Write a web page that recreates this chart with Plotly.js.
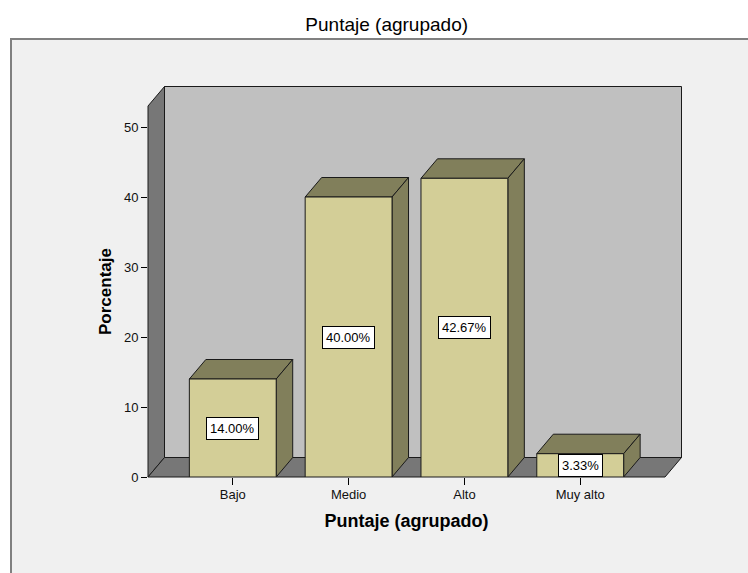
<!DOCTYPE html>
<html>
<head>
<meta charset="utf-8">
<script src="https://cdn.plot.ly/plotly-3.0.1.min.js"></script>
<style>html,body{margin:0;padding:0;background:#fff;}#chart{width:748px;height:573px;}</style>
</head>
<body>
<div id="chart"></div>
<script>
// ---- data ----
const categories = ['Bajo', 'Medio', 'Alto', 'Muy alto'];
const percentages = [14.00, 40.00, 42.67, 3.33];
const valueLabels = ['14.00%', '40.00%', '42.67%', '3.33%'];
const yTickValues = [0, 10, 20, 30, 40, 50];
const yTickLabels = ['0', '10', '20', '30', '40', '50'];

// ---- geometry / style ----
const W = 748, H = 573;
const M = {l: 148, r: 83, t: 106, b: 96};
const plotW = W - M.l - M.r, plotH = H - M.t - M.b;
const xRange = [-0.732, 3.732];
const yRange = [0, 53];
const DEPTH_X_PX = 16.5, DEPTH_Y_PX = 19.5;
const dxData = DEPTH_X_PX * (xRange[1] - xRange[0]) / plotW;
const dyData = DEPTH_Y_PX * (yRange[1] - yRange[0]) / plotH;
const dxPaper = DEPTH_X_PX / plotW;
const dyPaper = DEPTH_Y_PX / plotH;
const barWidth = 0.75;

const FONT = 'Arial, "Liberation Sans", sans-serif';
const FRONT = '#D3CE97', DARK = '#817F5B';
const WALL_BACK = '#C0C0C0', WALL_SIDE = '#777777';
const EDGE = '#1a1a1a';

const shapes = [];
// outer frame
shapes.push({type: 'rect', xref: 'paper', yref: 'paper', layer: 'below',
  x0: (11 - M.l) / plotW, x1: 1.3, y0: -0.4, y1: (H - M.b - 39) / plotH,
  fillcolor: '#F0F0F0', line: {color: '#808080', width: 2}});
// back wall
shapes.push({type: 'path', xref: 'paper', yref: 'paper', layer: 'below',
  path: `M ${dxPaper},${dyPaper} L ${1 + dxPaper},${dyPaper} L ${1 + dxPaper},${1 + dyPaper} L ${dxPaper},${1 + dyPaper} Z`,
  fillcolor: WALL_BACK, line: {color: EDGE, width: 1}});
// left wall
shapes.push({type: 'path', xref: 'paper', yref: 'paper', layer: 'below',
  path: `M 0,0 L ${dxPaper},${dyPaper} L ${dxPaper},${1 + dyPaper} L 0,1 Z`,
  fillcolor: WALL_SIDE, line: {color: EDGE, width: 1}});
// floor
shapes.push({type: 'path', xref: 'paper', yref: 'paper', layer: 'below',
  path: `M 0,0 L 1,0 L ${1 + dxPaper},${dyPaper} L ${dxPaper},${dyPaper} Z`,
  fillcolor: WALL_SIDE, line: {color: EDGE, width: 1}});

// 3D faces of bars (derived from data)
const xs = categories.map((c, i) => i);
xs.forEach((xc, i) => {
  const v = percentages[i];
  const x0 = xc - barWidth / 2, x1 = xc + barWidth / 2;
  shapes.push({type: 'path', xref: 'x', yref: 'y', layer: 'below',
    path: `M ${x0},${v} L ${x0 + dxData},${v + dyData} L ${x1 + dxData},${v + dyData} L ${x1},${v} Z`,
    fillcolor: DARK, line: {color: EDGE, width: 1}});
  shapes.push({type: 'path', xref: 'x', yref: 'y', layer: 'below',
    path: `M ${x1},${v} L ${x1 + dxData},${v + dyData} L ${x1 + dxData},${dyData} L ${x1},0 Z`,
    fillcolor: DARK, line: {color: EDGE, width: 1}});
});

const annotations = xs.map((xc, i) => ({
  x: xc, y: percentages[i] / 2, xref: 'x', yref: 'y',
  text: valueLabels[i], showarrow: false,
  bgcolor: '#FFFFFF', bordercolor: '#000000', borderwidth: 1, borderpad: 3,
  font: {family: FONT, size: 13, color: '#000'}
}));

const trace = {
  type: 'bar', x: xs, y: percentages, width: barWidth,
  marker: {color: FRONT, line: {color: EDGE, width: 1}},
  hoverinfo: 'skip', textposition: 'none'
};

const layout = {
  width: W, height: H,
  margin: M,
  paper_bgcolor: '#FFFFFF',
  plot_bgcolor: 'rgba(0,0,0,0)',
  showlegend: false,
  title: {text: 'Puntaje (agrupado)', font: {family: FONT, size: 19, color: '#000'},
    xref: 'container', yref: 'container', x: 386.7 / W, xanchor: 'center', y: 1 - 24 / H, yanchor: 'middle'},
  xaxis: {
    range: xRange, tickvals: xs, ticktext: categories,
    ticks: 'outside', ticklen: 7, tickwidth: 1, tickcolor: '#000',
    ticklabelstandoff: -2,
    showline: false, showgrid: false, zeroline: false,
    tickfont: {family: FONT, size: 13, color: '#111'},
    title: {text: '<b>Puntaje (agrupado)</b>', font: {family: FONT, size: 18, color: '#000'}, standoff: 13},
    fixedrange: true
  },
  yaxis: {
    range: yRange, tickvals: yTickValues, ticktext: yTickLabels,
    ticks: 'outside', ticklen: 6, tickwidth: 1, tickcolor: '#000',
    showline: false, showgrid: false, zeroline: false,
    tickfont: {family: FONT, size: 13, color: '#111'},
    title: {text: '<b>Porcentaje</b>', font: {family: FONT, size: 17, color: '#000'}, standoff: 7},
    fixedrange: true
  },
  shapes: shapes,
  annotations: annotations,
  bargap: 0
};

Plotly.newPlot('chart', [trace], layout, {displayModeBar: false, staticPlot: true});
</script>
</body>
</html>
